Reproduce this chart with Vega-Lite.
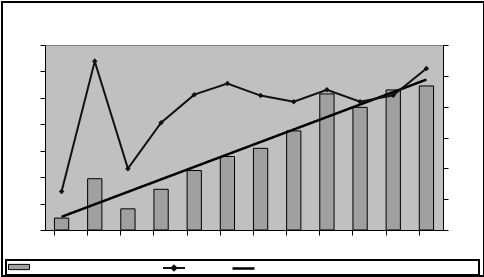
{
  "$schema": "https://vega.github.io/schema/vega-lite/v6.json",
  "width": 398,
  "height": 185,
  "autosize": {"type": "none"},
  "padding": {"left": 45, "top": 45, "right": 41, "bottom": 47},
  "background": "white",
  "config": {
    "view": {"fill": "#c0c0c0", "stroke": "#808080", "strokeWidth": 1},
    "axis": {"grid": false, "labels": false, "title": null, "domain": true, "ticks": true, "domainColor": "black", "tickColor": "black", "tickSize": 5, "domainWidth": 1, "tickWidth": 1}
  },
  "data": {
    "values": [
      {"i": 1, "bar": 0.45, "line": 1.25},
      {"i": 2, "bar": 1.94, "line": 5.47},
      {"i": 3, "bar": 0.80, "line": 1.99},
      {"i": 4, "bar": 1.54, "line": 3.48},
      {"i": 5, "bar": 2.25, "line": 4.39},
      {"i": 6, "bar": 2.78, "line": 4.75},
      {"i": 7, "bar": 3.09, "line": 4.36},
      {"i": 8, "bar": 3.75, "line": 4.16},
      {"i": 9, "bar": 5.15, "line": 4.55},
      {"i": 10, "bar": 4.64, "line": 4.16},
      {"i": 11, "bar": 5.30, "line": 4.37},
      {"i": 12, "bar": 5.45, "line": 5.24}
    ]
  },
  "layer": [
    {
      "layer": [
        {
          "mark": {"type": "bar", "stroke": "black", "strokeWidth": 1},
          "encoding": {
            "x": {"field": "i", "type": "ordinal", "scale": {"paddingInner": 0.57, "paddingOuter": 0.285}, "axis": {"orient": "bottom", "bandPosition": 0, "tickCount": 30}},
            "y": {"field": "bar", "type": "quantitative", "scale": {"domain": [0, 7], "nice": false}, "axis": {"orient": "left", "values": [0, 1, 2, 3, 4, 5, 6, 7], "tickCount": 30}},
            "fill": {"datum": "Series 1", "scale": {"range": ["#a0a0a0"]}, "legend": {"orient": "none", "legendX": -37, "legendY": 211, "labelExpr": "''", "symbolType": "M-1,-0.25H1V0.25H-1Z", "symbolSize": 441, "symbolStrokeColor": "black", "symbolStrokeWidth": 1, "title": null, "padding": 0}}
          }
        },
        {
          "transform": [{"regression": "bar", "on": "i"}],
          "mark": {"type": "line", "color": "black", "strokeWidth": 2.5},
          "encoding": {
            "x": {"field": "i", "type": "ordinal", "axis": {"orient": "bottom", "bandPosition": 0, "tickCount": 30}},
            "y": {"field": "bar", "type": "quantitative", "axis": {"orient": "left", "values": [0, 1, 2, 3, 4, 5, 6, 7], "tickCount": 30}},
            "strokeDash": {"datum": "Trend", "scale": {"range": [[1, 0]]}, "legend": {"orient": "none", "legendX": 186, "legendY": 211, "labelExpr": "''", "symbolType": "stroke", "symbolSize": 484, "symbolStrokeColor": "black", "symbolStrokeWidth": 2.5, "title": null, "padding": 0}},
            "opacity": {"datum": "Frame", "scale": {"range": [1]}, "legend": {"orient": "none", "legendX": -44, "legendY": -148, "labelExpr": "''", "symbolType": "M-1,-0.5685H1V0.5685H-1ZM-0.9834,0.502H0.9793V0.564H-0.9834Z", "symbolSize": 232324, "symbolStrokeColor": "black", "symbolFillColor": "transparent", "symbolStrokeWidth": 2, "title": null, "padding": 0}}
          }
        }
      ]
    },
    {
      "layer": [
        {
          "mark": {"type": "line", "strokeWidth": 2},
          "encoding": {
            "x": {"field": "i", "type": "ordinal", "axis": {"orient": "bottom", "bandPosition": 0, "tickCount": 30}},
            "y": {"field": "line", "type": "quantitative", "scale": {"domain": [0, 6], "nice": false}, "axis": {"orient": "right", "values": [0, 1, 2, 3, 4, 5, 6], "tickCount": 30}},
            "stroke": {"datum": "Series 2", "scale": {"range": ["#111111"]}, "legend": {"orient": "none", "legendX": 117, "legendY": 211, "labelExpr": "''", "symbolType": "M-1,0H1M-0.22,0L0,-0.22L0.22,0L0,0.22Z", "symbolSize": 484, "symbolFillColor": "black", "symbolStrokeWidth": 2, "title": null, "padding": 0}}
          }
        },
        {
          "mark": {"type": "point", "shape": "diamond", "filled": true, "color": "#111111", "size": 30, "opacity": 1},
          "encoding": {
            "x": {"field": "i", "type": "ordinal", "axis": {"orient": "bottom", "bandPosition": 0, "tickCount": 30}},
            "y": {"field": "line", "type": "quantitative", "axis": {"orient": "right", "values": [0, 1, 2, 3, 4, 5, 6], "tickCount": 30}}
          }
        }
      ]
    }
  ],
  "resolve": {"scale": {"y": "independent"}}
}
